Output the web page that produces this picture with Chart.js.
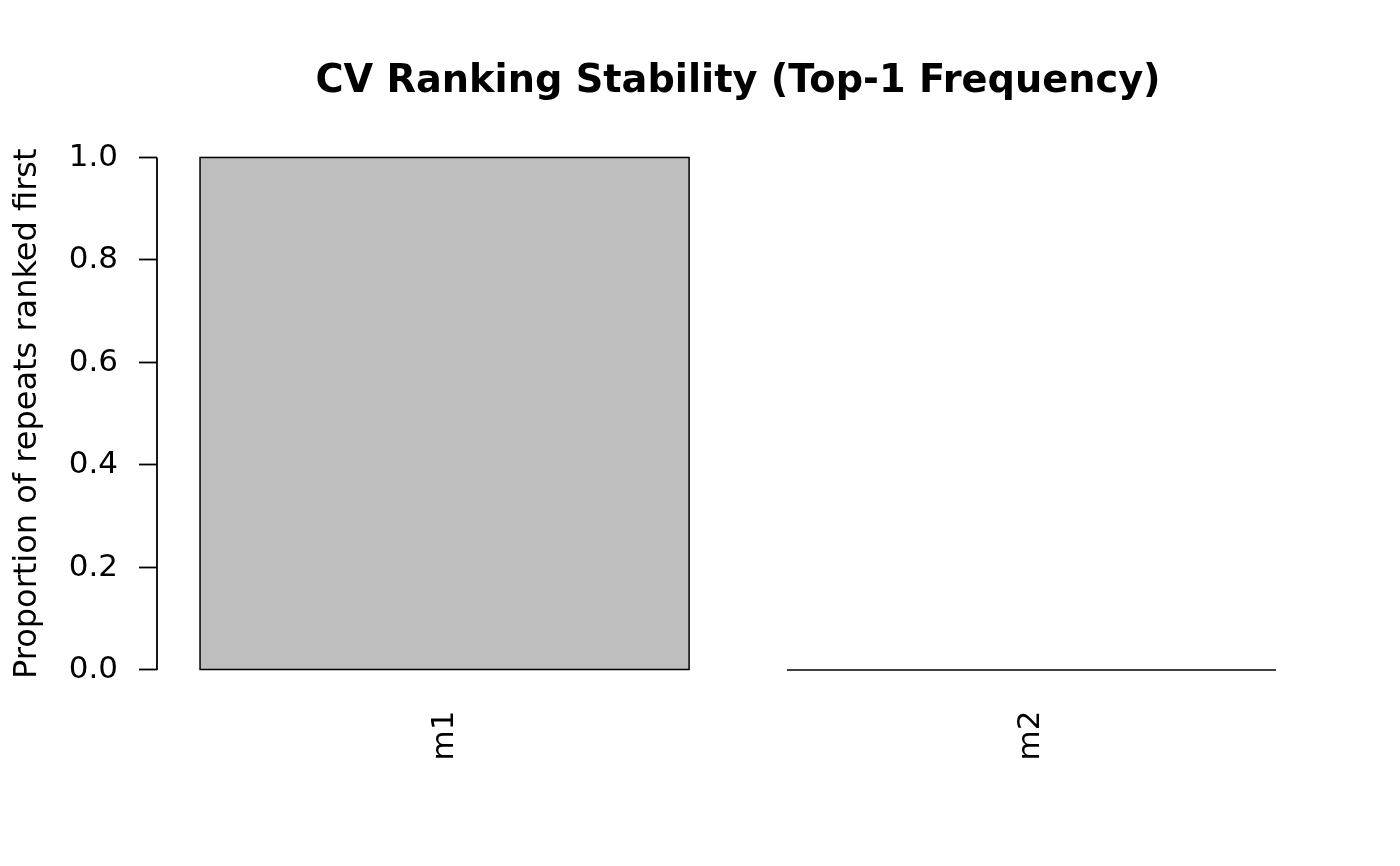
<!DOCTYPE html>
<html>
<head>
<meta charset="utf-8">
<script src="https://cdn.jsdelivr.net/npm/chart.js@4"></script>
<style>
html,body{margin:0;padding:0;background:#fff;}
#wrap{width:1400px;height:866px;}
</style>
</head>
<body>
<div id="wrap"><canvas id="c" width="1400" height="866"></canvas></div>
<script>
const categories = ['m1', 'm2'];
const values = [1.0, 0.0];
const yTicks = [0.0, 0.2, 0.4, 0.6, 0.8, 1.0];
const titleText = 'CV Ranking Stability (Top-1 Frequency)';
const yLabel = 'Proportion of repeats ranked first';

// R barplot geometry: width 1, space 0.2
const centers = categories.map((_, i) => 0.7 + 1.2 * i);
const FONT = 'DejaVu Sans';

const outlinePlugin = {
  id: 'outline',
  afterDatasetsDraw(chart) {
    const ctx = chart.ctx;
    const meta = chart.getDatasetMeta(0);
    ctx.save();
    ctx.strokeStyle = '#000';
    ctx.lineWidth = 1.5;
    meta.data.forEach(el => {
      const l = el.x - el.width / 2;
      const top = Math.min(el.y, el.base);
      const h = Math.abs(el.base - el.y);
      if (h < 0.5) {
        ctx.beginPath(); ctx.moveTo(l, el.base); ctx.lineTo(l + el.width, el.base); ctx.stroke();
      } else {
        ctx.strokeRect(l, top, el.width, h);
      }
    });
    // y axis line spanning ticks only
    const y = chart.scales.y;
    const x0 = chart.chartArea.left;
    ctx.lineWidth = 1.8;
    ctx.beginPath();
    ctx.moveTo(x0, y.getPixelForValue(yTicks[0]));
    ctx.lineTo(x0, y.getPixelForValue(yTicks[yTicks.length - 1]));
    ctx.stroke();
    ctx.restore();
  }
};

new Chart(document.getElementById('c'), {
  type: 'bar',
  data: {
    datasets: [{
      data: categories.map((c, i) => ({ x: centers[i], y: values[i] })),
      backgroundColor: '#bebebe',
      borderWidth: 0,
      barPercentage: 1,
      categoryPercentage: 1 / 1.2
    }]
  },
  options: {
    responsive: false,
    animation: false,
    layout: { padding: { left: 0, right: 81, top: 0, bottom: 0 } },
    plugins: {
      legend: { display: false },
      tooltip: { enabled: false },
      title: {
        display: true,
        text: titleText,
        fullSize: false,
        color: '#000',
        font: { family: FONT, size: 38.3, weight: 'bold' },
        padding: { top: 59, bottom: 32 }
      }
    },
    scales: {
      x: {
        type: 'linear',
        offset: false,
        min: 0.112,
        max: 2.488,
        afterBuildTicks(scale) { scale.ticks = centers.map(v => ({ value: v })); },
        afterFit(scale) { scale.height = 866 - 690.5; },
        grid: { display: false, drawTicks: false },
        border: { display: false },
        ticks: {
          autoSkip: false,
          minRotation: 90,
          maxRotation: 90,
          padding: 20,
          color: '#000',
          font: { family: FONT, size: 31 },
          callback(v) {
            const i = centers.findIndex(c => Math.abs(c - v) < 1e-6);
            return i >= 0 ? categories[i] : '';
          }
        }
      },
      y: {
        min: -0.04,
        max: 1.04,
        afterBuildTicks(scale) { scale.ticks = yTicks.map(v => ({ value: v })); },
        afterFit(scale) { scale.width = 157; },
        grid: { drawOnChartArea: false, drawTicks: true, tickLength: 18, tickWidth: 1.8, tickColor: '#000' },
        border: { display: false },
        ticks: {
          padding: 21,
          color: '#000',
          font: { family: FONT, size: 31 },
          callback(v) { return v.toFixed(1); }
        },
        title: {
          display: true,
          text: yLabel,
          color: '#000',
          font: { family: FONT, size: 32 },
          padding: { top: 8, bottom: 0 }
        }
      }
    }
  },
  plugins: [outlinePlugin]
});
</script>
</body>
</html>
